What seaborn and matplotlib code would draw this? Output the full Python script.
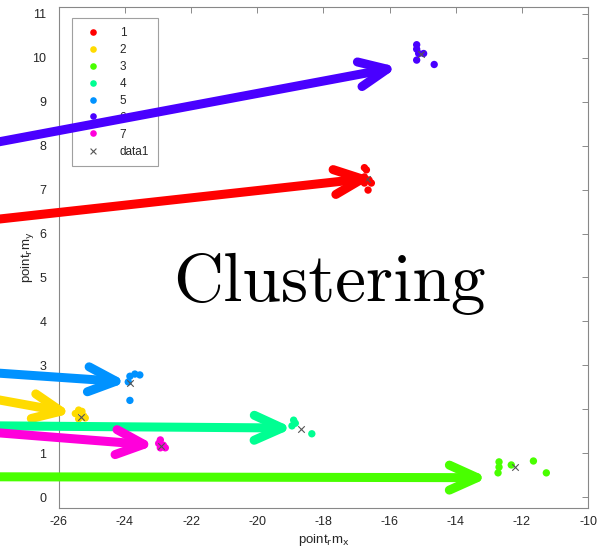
import pandas as pd
import seaborn as sns
import matplotlib.pyplot as plt

# cluster colours (matlab hsv(7))
cluster_colors = [
    "#ff0000", "#ffdb00", "#49ff00", "#00ff92",
    "#0092ff", "#4900ff", "#ff00db",
]
cluster_names = ["1", "2", "3", "4", "5", "6", "7"]

# points of each cluster
point_x = [
    -16.76, -16.70, -16.76, -16.62, -16.76, -16.55, -16.65,
    -25.50, -25.40, -25.30, -25.25, -25.40, -25.20,
    -12.69, -12.69, -12.72, -12.32, -11.65, -11.26,
    -18.90, -18.85, -18.95, -18.35,
    -23.85, -23.70, -23.55, -23.90, -23.85,
    -15.18, -15.18, -15.12, -14.97, -15.18, -14.65,
    -22.93, -22.84, -22.93, -22.78, -22.98,
]
point_y = [
    7.50, 7.45, 7.29, 7.22, 7.15, 7.15, 6.99,
    1.90, 1.98, 1.95, 1.85, 1.78, 1.80,
    0.80, 0.68, 0.55, 0.73, 0.82, 0.55,
    1.75, 1.68, 1.62, 1.44,
    2.75, 2.80, 2.78, 2.62, 2.20,
    10.30, 10.20, 10.10, 10.10, 9.95, 9.85,
    1.30, 1.18, 1.12, 1.12, 1.22,
]
point_cluster = (
    ["1"] * 7 + ["2"] * 6 + ["3"] * 6 + ["4"] * 4
    + ["5"] * 5 + ["6"] * 6 + ["7"] * 5
)

# data1 = cluster centres
centroid_x = [-16.69, -25.33, -12.22, -18.67, -23.84, -15.05, -22.90]
centroid_y = [7.25, 1.82, 0.69, 1.55, 2.60, 10.08, 1.16]

# hand drawn arrows pointing at the clusters
arrow_start_x = [-27.8, -27.8, -27.8, -27.8, -27.8, -27.8, -27.8]
arrow_start_y = [6.33, 2.21, 0.46, 1.62, 2.82, 8.09, 1.46]
arrow_end_x = [-16.50, -25.61, -13.02, -18.92, -23.94, -15.75, -23.10]
arrow_end_y = [7.27, 1.91, 0.44, 1.57, 2.62, 9.79, 1.18]

points = pd.DataFrame({"x": point_x, "y": point_y, "cluster": point_cluster})

sns.set_style("white")
plt.rcParams["font.family"] = ["Liberation Sans", "DejaVu Sans"]
plt.rcParams["axes.unicode_minus"] = False

fig = plt.figure(figsize=(6, 5.57), dpi=100)
ax = fig.add_axes([0.098, 0.088, 0.882, 0.8995])

sns.scatterplot(
    data=points, x="x", y="y", hue="cluster",
    hue_order=cluster_names, palette=cluster_colors,
    s=28, linewidth=0, ax=ax,
)
ax.scatter(centroid_x, centroid_y, marker="x", s=22, color="#555555",
           linewidths=0.8, label="data1", zorder=3)

ax.set_xlim(-26, -10)
ax.set_ylim(-0.25, 11.16)
ax.set_xticks(range(-26, -9, 2))
ax.set_yticks(range(0, 12))
ax.tick_params(direction="in", length=4, width=0.6, colors="#777777",
               labelcolor="#262626", labelsize=9,
               top=True, right=True)
ax.tick_params(axis="y", pad=9)
ax.tick_params(axis="x", pad=6)
for spine in ax.spines.values():
    spine.set_color("#888888")
    spine.set_linewidth(0.8)

ax.set_xlabel(r"point$_{\rm r}$m$_{\rm x}$", fontsize=9.5, color="#262626", labelpad=3)
ax.set_ylabel(r"point$_{\rm r}$m$_{\rm y}$", fontsize=9.5, color="#262626", labelpad=-3)

leg = ax.legend(loc="upper left", bbox_to_anchor=(0.025, 0.978),
                borderaxespad=0, fontsize=8.5, frameon=True, fancybox=False,
                labelspacing=0.42, handletextpad=1.3, borderpad=0.75,
                markerscale=0.9)
leg.get_frame().set_edgecolor("#888888")
leg.get_frame().set_linewidth(0.8)

ax.text(-17.83, 4.85, "Clustering", fontsize=50, family="cmr10",
        ha="center", va="center", color="black")

for x0, y0, x1, y1, color in zip(arrow_start_x, arrow_start_y,
                                 arrow_end_x, arrow_end_y, cluster_colors):
    ax.annotate(
        "", xy=(x1, y1), xytext=(x0, y0),
        annotation_clip=False, zorder=10,
        arrowprops=dict(
            arrowstyle="->, head_length=20, head_width=9",
            mutation_scale=1, color=color, lw=6.5,
            capstyle="round", joinstyle="round",
            shrinkA=0, shrinkB=0, clip_on=False,
        ),
    )

fig.savefig("out.png", dpi=100)
